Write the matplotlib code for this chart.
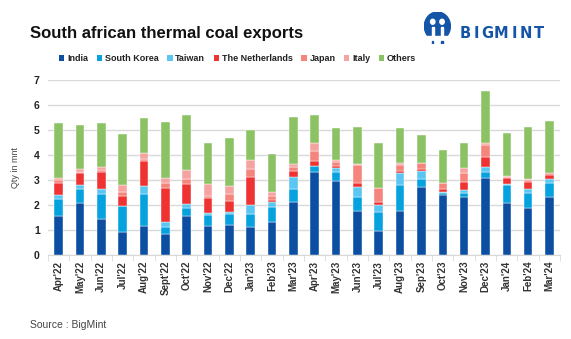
import matplotlib.pyplot as plt
import numpy as np
from matplotlib.patches import Patch, Ellipse, Rectangle

plt.rcParams['font.family'] = ['Liberation Sans Narrow', 'Liberation Sans', 'DejaVu Sans']

months = ["Apr'22", "May'22", "Jun'22", "Jul'22", "Aug'22", "Sept'22", "Oct'22", "Nov'22",
          "Dec'22", "Jan'23", "Feb'23", "Mar'23", "Apr'23", "May'23", "Jun'23", "Jul'23",
          "Aug'23", "Sep'23", "Oct'23", "Nov'23", "Dec'23", "Jan'24", "Feb'24", "Mar'24"]

# monthly exports by destination, mnt
india = [1.58, 2.08, 1.46, 0.93, 1.18, 0.84, 1.58, 1.18, 1.22, 1.14, 1.32, 2.12,
         3.31, 2.97, 1.76, 0.96, 1.76, 2.71, 2.41, 2.31, 3.07, 2.08, 1.90, 2.33]
south_korea = [0.66, 0.55, 1.00, 1.04, 1.28, 0.30, 0.32, 0.43, 0.43, 0.51, 0.62, 0.51,
               0.25, 0.34, 0.55, 0.78, 1.05, 0.32, 0.06, 0.16, 0.24, 0.73, 0.60, 0.57]
taiwan = [0.17, 0.18, 0.19, 0.01, 0.32, 0.18, 0.15, 0.09, 0.07, 0.37, 0.20, 0.51,
          0.01, 0.19, 0.43, 0.27, 0.46, 0.34, 0.05, 0.14, 0.20, 0.02, 0.15, 0.15]
netherlands = [0.49, 0.46, 0.66, 0.40, 1.00, 1.38, 0.78, 0.57, 0.46, 1.09, 0.07, 0.22,
               0.21, 0.08, 0.16, 0.12, 0.11, 0.06, 0.11, 0.33, 0.43, 0.24, 0.29, 0.16]
japan = [0.11, 0.05, 0.10, 0.16, 0.05, 0.17, 0.22, 0.10, 0.25, 0.32, 0.17, 0.18,
         0.40, 0.16, 0.70, 0.54, 0.22, 0.24, 0.24, 0.36, 0.46, 0.07, 0.07, 0.06]
italy = [0.09, 0.12, 0.13, 0.27, 0.24, 0.20, 0.36, 0.46, 0.34, 0.37, 0.16, 0.10,
         0.29, 0.07, 0.04, 0.03, 0.07, 0.03, 0.03, 0.20, 0.07, 0.02, 0.02, 0.02]
others = [2.17, 1.76, 1.73, 2.05, 1.43, 2.27, 2.19, 1.67, 1.90, 1.19, 1.49, 1.90,
          1.13, 1.29, 1.50, 1.80, 1.40, 1.11, 1.30, 1.00, 2.09, 1.74, 2.11, 2.07]

series = [("India", india, "#0B4EA2"),
          ("South Korea", south_korea, "#06A2DF"),
          ("Taiwan", taiwan, "#5CC6F2"),
          ("The Netherlands", netherlands, "#EE3332"),
          ("Japan", japan, "#F5847D"),
          ("Italy", italy, "#F4A3A0"),
          ("Others", others, "#8BC263")]

fig = plt.figure(figsize=(5.71, 3.39), dpi=100)
ax = fig.add_axes([0.084, 0.247, 0.897, 0.517])

x = np.arange(len(months))
bottom = np.zeros(len(months))
for name, vals, col in series:
    ax.bar(x, vals, 0.4, bottom=bottom, color=col, edgecolor='white', linewidth=0.3, zorder=3)
    bottom += np.array(vals)

ax.set_xlim(-0.5, len(months) - 0.5)
ax.set_ylim(0, 7)
ax.set_yticks(range(8))
ax.yaxis.grid(True, color='#D9D9D9', linewidth=1, zorder=0)
for s in ['top', 'right', 'left']:
    ax.spines[s].set_visible(False)
ax.spines['bottom'].set_color('#D9D9D9')
ax.tick_params(axis='y', length=0, pad=6, labelsize=7.5, labelcolor='#222222')
for lab in ax.get_yticklabels():
    lab.set_fontweight('bold')

ax.set_xticks(x)
ax.set_xticklabels(months, rotation=90, fontsize=7, fontweight='bold', color='#333333')
ax.tick_params(axis='x', length=0, pad=4)
ax.set_xticks(np.arange(-0.5, len(months), 1), minor=True)
ax.tick_params(axis='x', which='minor', length=4, color='#D9D9D9')

ax.set_ylabel('Qty in mnt', fontsize=6.5, color='#444444', labelpad=10)

fig.text(0.053, 0.9, 'South african thermal coal exports', fontsize=12, fontweight='bold',
         color='#111111', va='center', ha='left')

handles = [Patch(facecolor=col, label=name) for name, vals, col in series]
leg = fig.legend(handles=handles, loc='center', bbox_to_anchor=(0.416, 0.826), ncol=7,
                 frameon=False, fontsize=6.5, handlelength=0.6, handleheight=0.6,
                 handletextpad=0.3, columnspacing=0.95)
for t in leg.get_texts():
    t.set_fontweight('bold')
    t.set_color('#222222')

fig.text(0.053, 0.04, 'Source : BigMint', fontsize=7.5, color='#444444', va='center')

# logo mark
logo_blue = '#1455A8'
lax = fig.add_axes([0.742, 0.87, 0.048, 0.095])
lax.set_xlim(0, 1)
lax.set_ylim(0, 1.3)
lax.axis('off')
lax.add_patch(Ellipse((0.5, 0.72), 0.95, 1.15, color=logo_blue))
lax.add_patch(Rectangle((0.02, 0.12), 0.96, 0.2, color='white'))
for cx in [0.33, 0.67]:
    lax.add_patch(Ellipse((cx, 0.9), 0.16, 0.2, color='white'))
    lax.add_patch(Rectangle((cx - 0.04, 0.1), 0.08, 0.6, color='white'))
    lax.add_patch(Rectangle((cx - 0.025, 0.0), 0.05, 0.12, color=logo_blue))
letter_x = [0.815, 0.835, 0.853, 0.878, 0.9, 0.92, 0.944]
for lx, ch in zip(letter_x, "BIGMINT"):
    fig.text(lx, 0.9, ch, fontsize=10.5, fontweight='bold', color=logo_blue,
             family='DejaVu Sans', ha='center', va='center')

fig.savefig('out.png', dpi=100)
